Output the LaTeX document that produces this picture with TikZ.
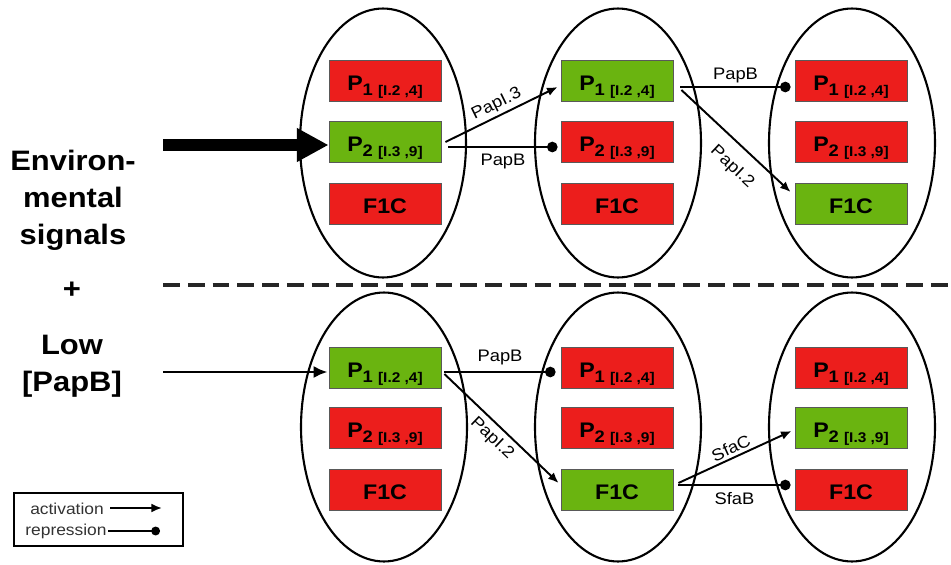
\documentclass[tikz,border=0pt]{standalone}
\usepackage{fontspec}
\setmainfont{Liberation Sans}[FakeStretch=1.1]
\usetikzlibrary{arrows.meta,calc,shapes.geometric}
\definecolor{boxred}{RGB}{236,30,28}
\definecolor{boxgreen}{RGB}{106,180,16}
\newcommand\PoneTxt{P\raisebox{-3pt}{\fontsize{9.5}{10}\selectfont 1 \fontsize{8}{9}\selectfont[I.2 ,4]}}
\newcommand\PtwoTxt{P\raisebox{-3pt}{\fontsize{9.5}{10}\selectfont 2 \fontsize{8}{9}\selectfont[I.3 ,9]}}
\begin{document}
\begin{tikzpicture}[x=0.02cm,y=-0.02cm,
  cell/.style={draw, line width=1.2pt, ellipse, minimum width=3.32cm, minimum height=5.38cm, inner sep=0},
  gene/.style={draw=black!65, line width=0.5pt, minimum width=2.24cm, minimum height=0.82cm, inner sep=0, text height=11pt, text depth=0pt, font=\fontsize{12}{14}\selectfont\bfseries},
  on/.style={gene, fill=boxgreen},
  off/.style={gene, fill=boxred},
  act/.style={line width=1.1pt, -{Latex[length=6pt,width=5pt]}},
  rep/.style={line width=1.1pt, -{Circle[length=6pt]}},
  lab/.style={font=\fontsize{9.5}{11}\selectfont, inner sep=1.5pt},
  side/.style={font=\fontsize{16}{21}\selectfont\bfseries, align=center},
  legtext/.style={font=\fontsize{9}{10}\selectfont, text=black!80, inner sep=0}
]
\useasboundingbox (0,0) rectangle (951,565);

% cells
\node[cell] (e1) at (383,143) {};
\node[cell] (e2) at (618,143) {};
\node[cell] (e3) at (852,143) {};
\node[cell] (e4) at (384,427) {};
\node[cell] (e5) at (618,427) {};
\node[cell] (e6) at (852,427) {};

% top row genes
\node[off] (t11) at (385,81) {\PoneTxt};
\node[on]  (t12) at (385,142) {\PtwoTxt};
\node[off] (t13) at (385,204) {F1C};
\node[on]  (t21) at (617,81) {\PoneTxt};
\node[off] (t22) at (617,142) {\PtwoTxt};
\node[off] (t23) at (617,204) {F1C};
\node[off] (t31) at (851,81) {\PoneTxt};
\node[off] (t32) at (851,142) {\PtwoTxt};
\node[on]  (t33) at (851,204) {F1C};

% bottom row genes
\node[on]  (u11) at (385,368) {\PoneTxt};
\node[off] (u12) at (385,428) {\PtwoTxt};
\node[off] (u13) at (385,490) {F1C};
\node[off] (u21) at (617,368) {\PoneTxt};
\node[off] (u22) at (617,428) {\PtwoTxt};
\node[on]  (u23) at (617,490) {F1C};
\node[off] (u31) at (851,368) {\PoneTxt};
\node[on]  (u32) at (851,428) {\PtwoTxt};
\node[off] (u33) at (851,490) {F1C};

% side texts
\node[side] (env) at (73,200) {Environ-\\mental\\signals};
\node[side] (plus) at (72,290) {+};
\node[side] (low) at (72,366) {Low\\{}[PapB]};

% inputs
\coordinate (inTop) at (163,145);
\coordinate (inBot) at (163,372);
\draw[line width=6.8pt, -{Triangle[length=18pt,width=18pt]}] (inTop) -- ($(t12.west)+(0,3)$);
\draw[line width=1.7pt, -{Latex[length=8pt,width=7pt]}] (inBot) -- ($(u11.west)+(-1,4)$);

% separator
\coordinate (d1) at (163,285);
\coordinate (d2) at (951,285);
\draw[line width=2pt, black!85, dash pattern=on 9.6pt off 4.5pt] (d1) -- (d2);

% top connectors
\draw[act] ($(t12.east)+(4,0)$) -- node[lab,sloped,above]{PapI.3} ($(t21.west)+(-3,6)$);
\draw[rep] ($(t12.east)+(7,5)$) -- node[lab,below=2pt]{PapB} ($(t22.west)+(-3,5)$);
\draw[rep] ($(t21.east)+(7,6)$) -- node[lab,above]{PapB} ($(t31.west)+(-4,6)$);
\draw[act] ($(t21.east)+(8,9)$) -- node[lab,sloped,below=6pt,pos=0.6]{PapI.2} ($(t33.west)+(-4,-12)$);

% bottom connectors
\draw[rep] ($(u11.east)+(3,4)$) -- node[lab,above=2pt]{PapB} ($(u21.west)+(-5,4)$);
\draw[act] ($(u11.east)+(3,6)$) -- node[lab,sloped,below=1.5pt,pos=0.5]{PapI.2} ($(u23.west)+(-2,-7)$);
\draw[act] ($(u23.east)+(5,-7)$) -- node[lab,sloped,above]{SfaC} ($(u32.west)+(-3,3)$);
\draw[rep] ($(u23.east)+(5,-5)$) -- node[lab,below=2pt]{SfaB} ($(u33.west)+(-4,-5)$);

% legend
\node[draw, line width=1.3pt, minimum width=3.38cm, minimum height=1.06cm, inner sep=0] (leg) at (98.5,519.5) {};
\node[legtext] (lact) at (67,509) {activation};
\node[legtext] (lrep) at (66,531) {repression};
\coordinate (la1) at (110,508);
\coordinate (la2) at (162,508);
\coordinate (lr1) at (108,531);
\coordinate (lr2) at (160,531);
\draw[act] (la1) -- (la2);
\draw[line width=1.1pt, -{Circle[length=5pt]}] (lr1) -- (lr2);
\end{tikzpicture}
\end{document}
